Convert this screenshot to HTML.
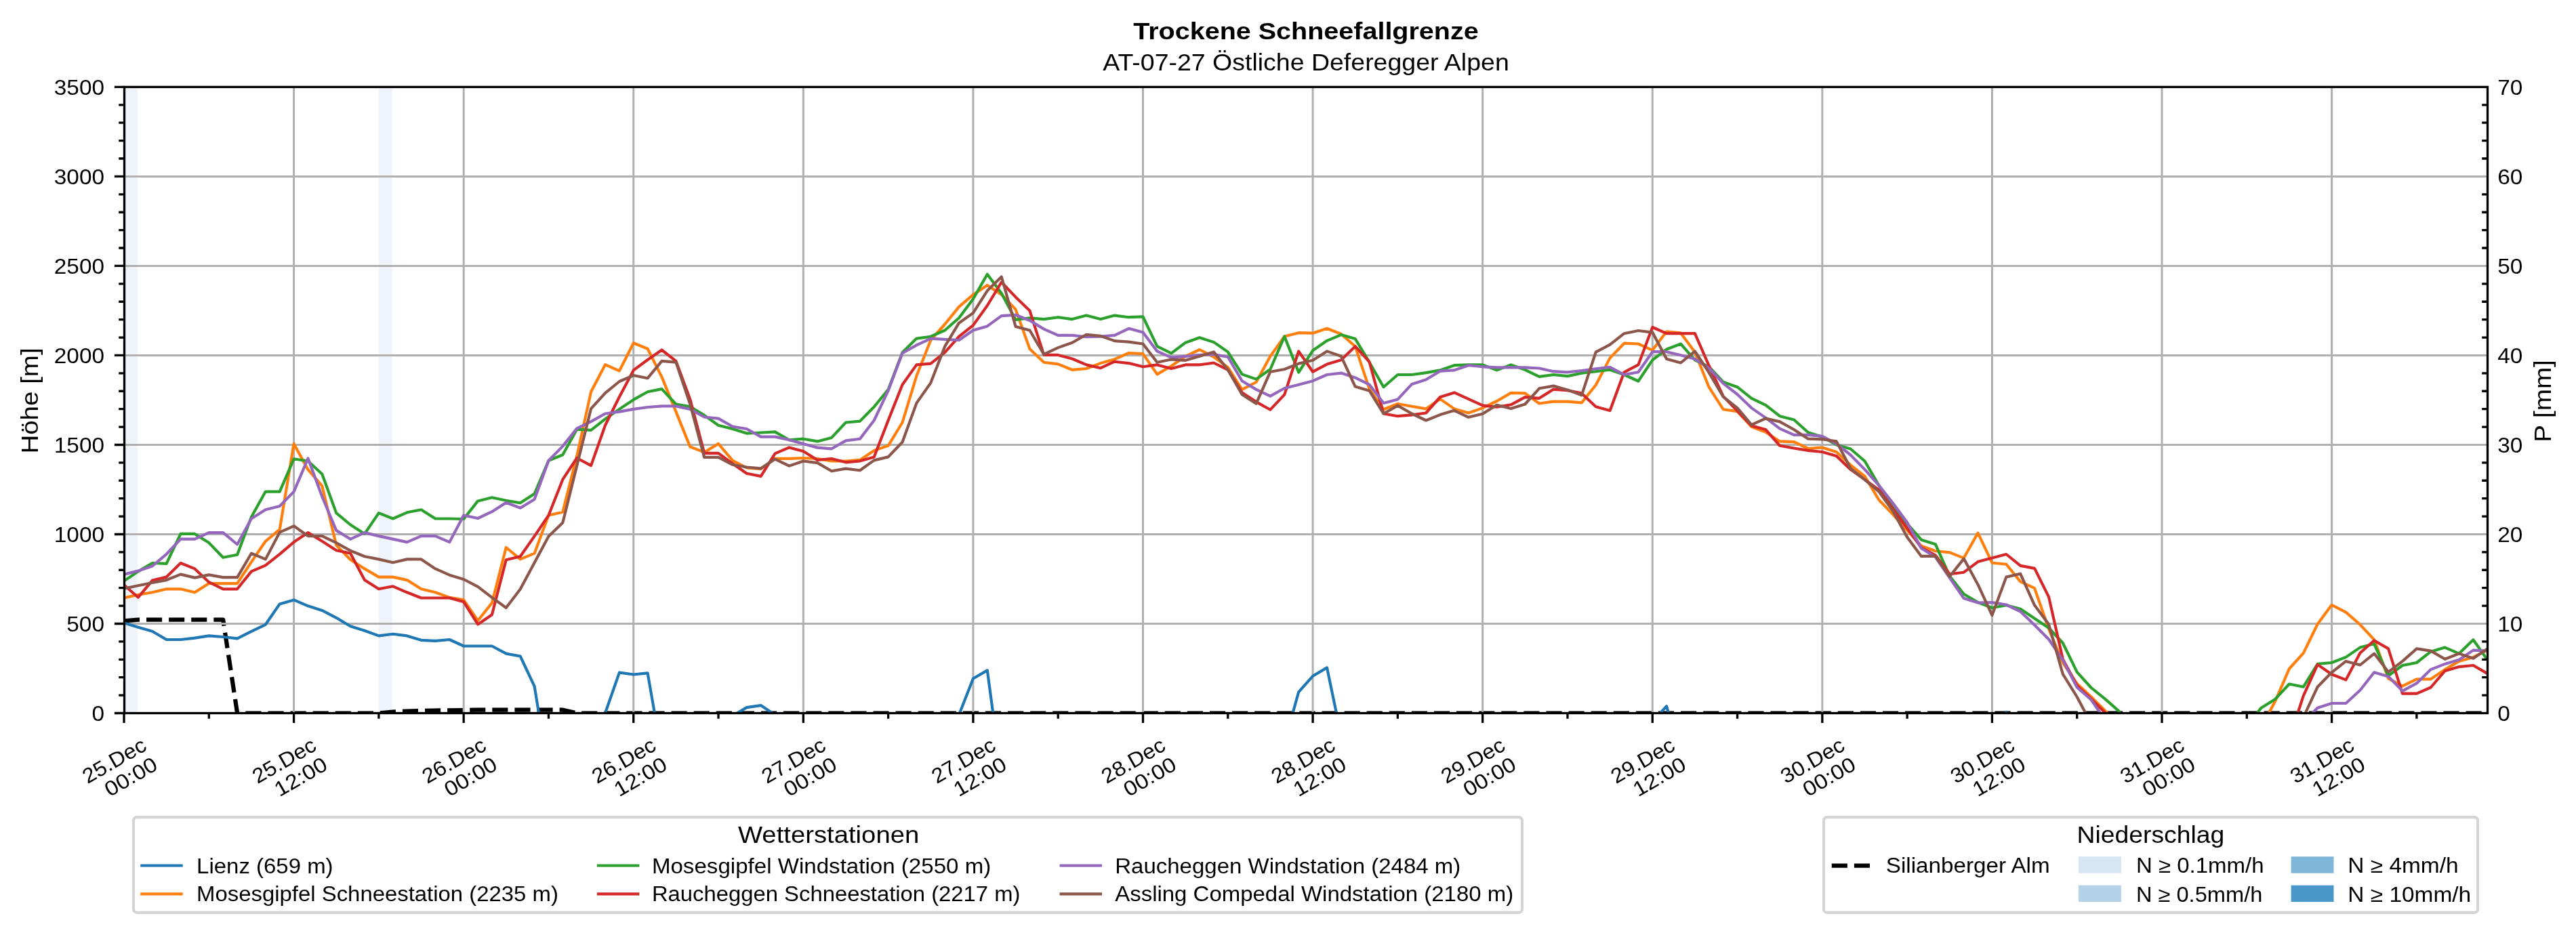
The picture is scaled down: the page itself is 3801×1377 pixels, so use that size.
<!DOCTYPE html><html><head><meta charset="utf-8"><style>html,body{margin:0;padding:0;background:#fff;overflow:hidden}</style></head><body><svg width="3801" height="1377" viewBox="0 0 3801 1377" style="display:block;will-change:transform">
<rect width="3801" height="1377" fill="#fff"/>
<defs><clipPath id="ax"><rect x="183.5" y="128.4" width="3487.0" height="924.1"/></clipPath></defs>
<rect x="183.0" y="128.4" width="19.9" height="924.1" fill="#eff4fb"/>
<rect x="558.9" y="128.4" width="19.9" height="924.1" fill="#eff4fb"/>
<g clip-path="url(#ax)" fill="none" stroke-linejoin="round" stroke-linecap="butt">
<polyline points="183.0,916.5 203.9,914.7 224.8,914.7 245.6,914.7 266.5,914.7 287.4,914.7 308.3,914.7 329.2,914.7 350.1,1052.5 370.9,1052.5 391.8,1052.5 412.7,1052.5 433.6,1052.5 454.5,1052.5 475.3,1052.5 496.2,1052.5 517.1,1052.5 538.0,1052.5 558.9,1052.5 579.8,1050.7 600.6,1049.6 621.5,1049.1 642.4,1048.5 663.3,1048.3 684.2,1048.0 705.1,1047.7 725.9,1047.7 746.8,1047.7 767.7,1047.7 788.6,1047.7 809.5,1047.7 830.3,1047.7 851.2,1052.5 872.1,1052.5 893.0,1052.5 913.9,1052.5 934.8,1052.5 955.6,1052.5 976.5,1052.5 997.4,1052.5 1018.3,1052.5 1039.2,1052.5 1060.0,1052.5 1080.9,1052.5 1101.8,1052.5 1122.7,1052.5 1143.6,1052.5 1164.5,1052.5 1185.3,1052.5 1206.2,1052.5 1227.1,1052.5 1248.0,1052.5 1268.9,1052.5 1289.7,1052.5 1310.6,1052.5 1331.5,1052.5 1352.4,1052.5 1373.3,1052.5 1394.2,1052.5 1415.0,1052.5 1435.9,1052.5 1456.8,1052.5 1477.7,1052.5 1498.6,1052.5 1519.4,1052.5 1540.3,1052.5 1561.2,1052.5 1582.1,1052.5 1603.0,1052.5 1623.9,1052.5 1644.7,1052.5 1665.6,1052.5 1686.5,1052.5 1707.4,1052.5 1728.3,1052.5 1749.2,1052.5 1770.0,1052.5 1790.9,1052.5 1811.8,1052.5 1832.7,1052.5 1853.6,1052.5 1874.4,1052.5 1895.3,1052.5 1916.2,1052.5 1937.1,1052.5 1958.0,1052.5 1978.9,1052.5 1999.7,1052.5 2020.6,1052.5 2041.5,1052.5 2062.4,1052.5 2083.3,1052.5 2104.1,1052.5 2125.0,1052.5 2145.9,1052.5 2166.8,1052.5 2187.7,1052.5 2208.6,1052.5 2229.4,1052.5 2250.3,1052.5 2271.2,1052.5 2292.1,1052.5 2313.0,1052.5 2333.8,1052.5 2354.7,1052.5 2375.6,1052.5 2396.5,1052.5 2417.4,1052.5 2438.3,1052.5 2459.1,1052.5 2480.0,1052.5 2500.9,1052.5 2521.8,1052.5 2542.7,1052.5 2563.5,1052.5 2584.4,1052.5 2605.3,1052.5 2626.2,1052.5 2647.1,1052.5 2668.0,1052.5 2688.8,1052.5 2709.7,1052.5 2730.6,1052.5 2751.5,1052.5 2772.4,1052.5 2793.2,1052.5 2814.1,1052.5 2835.0,1052.5 2855.9,1052.5 2876.8,1052.5 2897.7,1052.5 2918.5,1052.5 2939.4,1052.5 2960.3,1052.5 2981.2,1052.5 3002.1,1052.5 3023.0,1052.5 3043.8,1052.5 3064.7,1052.5 3085.6,1052.5 3106.5,1052.5 3127.4,1052.5 3148.2,1052.5 3169.1,1052.5 3190.0,1052.5 3210.9,1052.5 3231.8,1052.5 3252.7,1052.5 3273.5,1052.5 3294.4,1052.5 3315.3,1052.5 3336.2,1052.5 3357.1,1052.5 3377.9,1052.5 3398.8,1052.5 3419.7,1052.5 3440.6,1052.5 3461.5,1052.5 3482.4,1052.5 3503.2,1052.5 3524.1,1052.5 3545.0,1052.5 3565.9,1052.5 3586.8,1052.5 3607.6,1052.5 3628.5,1052.5 3649.4,1052.5 3670.3,1052.5" stroke="#000" stroke-width="6.25" stroke-dasharray="23.1 10" stroke-linecap="butt"/>
<path d="M433.58 128.4V1052.5M684.17 128.4V1052.5M934.75 128.4V1052.5M1185.34 128.4V1052.5M1435.92 128.4V1052.5M1686.50 128.4V1052.5M1937.09 128.4V1052.5M2187.67 128.4V1052.5M2438.26 128.4V1052.5M2688.84 128.4V1052.5M2939.42 128.4V1052.5M3190.01 128.4V1052.5M3440.59 128.4V1052.5M183.5 920.49H3670.5M183.5 788.47H3670.5M183.5 656.46H3670.5M183.5 524.44H3670.5M183.5 392.43H3670.5M183.5 260.41H3670.5" stroke="#b0b0b0" stroke-width="3" fill="none"/>
<polyline points="183.0,919.2 203.9,925.8 224.8,931.8 245.6,944.0 266.5,944.0 287.4,941.6 308.3,938.4 329.2,940.0 350.1,942.4 370.9,931.8 391.8,921.8 412.7,891.4 433.6,885.4 454.5,894.3 475.3,900.9 496.2,911.8 517.1,924.2 538.0,930.8 558.9,938.4 579.8,935.8 600.6,938.4 621.5,944.8 642.4,945.8 663.3,944.0 684.2,953.5 705.1,953.5 725.9,953.5 746.8,964.6 767.7,968.5 788.6,1012.9 809.5,1140.7 830.3,1158.1 851.2,1158.1 872.1,1158.1 893.0,1052.5 913.9,992.6 934.8,995.5 955.6,993.4 976.5,1113.2 997.4,1158.1 1018.3,1158.1 1039.2,1158.1 1060.0,1158.1 1080.9,1056.5 1101.8,1044.1 1122.7,1041.1 1143.6,1055.1 1164.5,1158.1 1185.3,1158.1 1206.2,1158.1 1227.1,1158.1 1248.0,1158.1 1268.9,1158.1 1289.7,1158.1 1310.6,1158.1 1331.5,1158.1 1352.4,1158.1 1373.3,1158.1 1394.2,1158.1 1415.0,1055.1 1435.9,1001.5 1456.8,989.4 1477.7,1145.4 1498.6,1158.1 1519.4,1158.1 1540.3,1158.1 1561.2,1158.1 1582.1,1158.1 1603.0,1158.1 1623.9,1158.1 1644.7,1158.1 1665.6,1158.1 1686.5,1158.1 1707.4,1158.1 1728.3,1158.1 1749.2,1158.1 1770.0,1158.1 1790.9,1158.1 1811.8,1158.1 1832.7,1158.1 1853.6,1158.1 1874.4,1158.1 1895.3,1096.6 1916.2,1021.3 1937.1,997.8 1958.0,985.4 1978.9,1085.8 1999.7,1158.1 2020.6,1158.1 2041.5,1158.1 2062.4,1158.1 2083.3,1158.1 2104.1,1158.1 2125.0,1158.1 2145.9,1158.1 2166.8,1158.1 2187.7,1158.1 2208.6,1158.1 2229.4,1158.1 2250.3,1158.1 2271.2,1158.1 2292.1,1158.1 2313.0,1158.1 2333.8,1158.1 2354.7,1158.1 2375.6,1158.1 2396.5,1158.1 2417.4,1158.1 2438.3,1065.2 2459.1,1042.2 2480.0,1115.9 2500.9,1158.1 2521.8,1158.1 2542.7,1158.1 2563.5,1158.1 2584.4,1158.1 2605.3,1158.1 2626.2,1158.1 2647.1,1158.1 2668.0,1158.1 2688.8,1158.1 2709.7,1158.1 2730.6,1158.1 2751.5,1158.1 2772.4,1158.1 2793.2,1158.1 2814.1,1158.1 2835.0,1158.1 2855.9,1158.1 2876.8,1158.1 2897.7,1158.1 2918.5,1158.1 2939.4,1158.1 2960.3,1050.9 2981.2,1158.1 3002.1,1158.1 3023.0,1158.1 3043.8,1158.1 3064.7,1158.1 3085.6,1158.1 3106.5,1158.1 3127.4,1158.1 3148.2,1158.1 3169.1,1158.1 3190.0,1158.1 3210.9,1158.1 3231.8,1158.1 3252.7,1158.1 3273.5,1158.1 3294.4,1158.1 3315.3,1158.1 3336.2,1158.1 3357.1,1158.1 3377.9,1158.1 3398.8,1158.1 3419.7,1158.1 3440.6,1158.1 3461.5,1158.1 3482.4,1158.1 3503.2,1158.1 3524.1,1158.1 3545.0,1158.1 3565.9,1158.1 3586.8,1158.1 3607.6,1158.1 3628.5,1158.1 3649.4,1158.1 3670.3,1158.1" stroke="#1f77b4" stroke-width="4.17"/>
<polyline points="183.0,882.5 203.9,877.7 224.8,874.3 245.6,869.3 266.5,869.3 287.4,874.3 308.3,861.1 329.2,861.1 350.1,861.1 370.9,829.4 391.8,798.8 412.7,781.3 433.6,654.9 454.5,693.2 475.3,717.2 496.2,804.6 517.1,826.0 538.0,839.4 558.9,851.6 579.8,851.6 600.6,856.1 621.5,869.3 642.4,874.3 663.3,881.9 684.2,885.4 705.1,916.0 725.9,889.9 746.8,808.0 767.7,825.4 788.6,816.7 809.5,760.5 830.3,755.7 851.2,673.1 872.1,578.3 893.0,538.2 913.9,547.4 934.8,506.2 955.6,514.7 976.5,556.4 997.4,607.6 1018.3,659.4 1039.2,667.5 1060.0,654.9 1080.9,679.7 1101.8,690.5 1122.7,692.1 1143.6,676.8 1164.5,676.8 1185.3,676.0 1206.2,677.0 1227.1,680.5 1248.0,680.5 1268.9,678.9 1289.7,664.9 1310.6,657.8 1331.5,623.5 1352.4,554.8 1373.3,502.0 1394.2,478.5 1415.0,452.9 1435.9,434.9 1456.8,420.9 1477.7,434.7 1498.6,456.6 1519.4,514.9 1540.3,534.7 1561.2,537.4 1582.1,545.8 1603.0,544.0 1623.9,536.1 1644.7,530.2 1665.6,521.0 1686.5,522.1 1707.4,552.4 1728.3,540.3 1749.2,525.8 1770.0,516.0 1790.9,526.8 1811.8,542.1 1832.7,574.9 1853.6,564.0 1874.4,525.8 1895.3,496.5 1916.2,491.2 1937.1,491.7 1958.0,484.8 1978.9,493.0 1999.7,511.2 2020.6,574.1 2041.5,604.2 2062.4,596.0 2083.3,599.7 2104.1,603.4 2125.0,588.9 2145.9,603.4 2166.8,609.5 2187.7,602.1 2208.6,592.0 2229.4,579.9 2250.3,580.4 2271.2,595.5 2292.1,592.6 2313.0,592.6 2333.8,594.4 2354.7,568.3 2375.6,528.4 2396.5,506.7 2417.4,507.5 2438.3,516.8 2459.1,489.3 2480.0,491.4 2500.9,519.7 2521.8,571.7 2542.7,604.2 2563.5,607.1 2584.4,629.8 2605.3,637.7 2626.2,651.4 2647.1,652.2 2668.0,662.0 2688.8,660.4 2709.7,667.0 2730.6,686.3 2751.5,702.9 2772.4,737.8 2793.2,759.4 2814.1,782.7 2835.0,805.6 2855.9,813.3 2876.8,815.4 2897.7,823.6 2918.5,786.6 2939.4,830.7 2960.3,832.8 2981.2,858.4 3002.1,868.2 3023.0,928.1 3043.8,978.3 3064.7,1008.9 3085.6,1028.5 3106.5,1049.3 3127.4,1070.2 3148.2,1158.1 3169.1,1158.1 3190.0,1158.1 3210.9,1158.1 3231.8,1158.1 3252.7,1158.1 3273.5,1158.1 3294.4,1158.1 3315.3,1158.1 3336.2,1074.2 3357.1,1035.1 3377.9,987.0 3398.8,963.8 3419.7,921.0 3440.6,892.8 3461.5,903.6 3482.4,921.8 3503.2,944.2 3524.1,1001.3 3545.0,1012.6 3565.9,1002.3 3586.8,1002.3 3607.6,988.1 3628.5,975.9 3649.4,969.9 3670.3,959.6" stroke="#ff7f0e" stroke-width="4.17"/>
<polyline points="183.0,857.6 203.9,843.4 224.8,831.0 245.6,831.8 266.5,787.9 287.4,787.9 308.3,801.1 329.2,822.8 350.1,818.8 370.9,762.9 391.8,725.6 412.7,725.6 433.6,677.3 454.5,680.5 475.3,699.8 496.2,757.1 517.1,774.5 538.0,787.9 558.9,757.1 579.8,765.5 600.6,756.3 621.5,752.3 642.4,765.5 663.3,765.5 684.2,766.0 705.1,739.4 725.9,734.3 746.8,738.8 767.7,742.3 788.6,728.8 809.5,679.7 830.3,671.2 851.2,633.7 872.1,634.8 893.0,618.4 913.9,603.9 934.8,589.9 955.6,578.3 976.5,574.1 997.4,596.5 1018.3,600.2 1039.2,612.9 1060.0,627.7 1080.9,633.0 1101.8,639.6 1122.7,638.5 1143.6,637.4 1164.5,649.3 1185.3,647.7 1206.2,651.4 1227.1,645.9 1248.0,623.5 1268.9,621.6 1289.7,600.5 1310.6,574.9 1331.5,520.2 1352.4,499.6 1373.3,496.7 1394.2,487.5 1415.0,469.3 1435.9,441.3 1456.8,404.8 1477.7,432.8 1498.6,471.9 1519.4,469.3 1540.3,471.1 1561.2,468.2 1582.1,471.1 1603.0,465.6 1623.9,471.1 1644.7,465.6 1665.6,468.2 1686.5,467.4 1707.4,511.2 1728.3,521.3 1749.2,505.7 1770.0,498.3 1790.9,504.9 1811.8,519.4 1832.7,552.4 1853.6,559.6 1874.4,545.0 1895.3,496.5 1916.2,549.5 1937.1,517.3 1958.0,502.8 1978.9,494.1 1999.7,500.1 2020.6,534.7 2041.5,571.2 2062.4,553.0 2083.3,553.0 2104.1,550.1 2125.0,546.4 2145.9,539.2 2166.8,538.4 2187.7,538.4 2208.6,546.4 2229.4,538.4 2250.3,545.8 2271.2,555.9 2292.1,553.0 2313.0,555.1 2333.8,550.8 2354.7,548.2 2375.6,545.8 2396.5,553.0 2417.4,562.5 2438.3,531.3 2459.1,515.5 2480.0,507.5 2500.9,531.3 2521.8,541.3 2542.7,563.8 2563.5,571.2 2584.4,587.8 2605.3,597.8 2626.2,614.2 2647.1,619.5 2668.0,638.2 2688.8,644.8 2709.7,656.5 2730.6,662.5 2751.5,680.5 2772.4,716.4 2793.2,749.4 2814.1,772.9 2835.0,796.7 2855.9,803.3 2876.8,850.3 2897.7,876.7 2918.5,889.1 2939.4,897.0 2960.3,893.3 2981.2,898.8 3002.1,912.8 3023.0,926.8 3043.8,949.0 3064.7,991.8 3085.6,1015.0 3106.5,1031.9 3127.4,1050.4 3148.2,1158.1 3169.1,1158.1 3190.0,1158.1 3210.9,1158.1 3231.8,1158.1 3252.7,1158.1 3273.5,1158.1 3294.4,1158.1 3315.3,1072.0 3336.2,1045.1 3357.1,1031.9 3377.9,1009.5 3398.8,1013.7 3419.7,979.9 3440.6,978.0 3461.5,969.9 3482.4,955.6 3503.2,950.3 3524.1,997.3 3545.0,982.0 3565.9,978.0 3586.8,961.7 3607.6,955.6 3628.5,964.6 3649.4,944.2 3670.3,973.8" stroke="#2ca02c" stroke-width="4.17"/>
<polyline points="183.0,863.2 203.9,881.7 224.8,856.6 245.6,851.6 266.5,831.0 287.4,839.4 308.3,859.2 329.2,869.3 350.1,869.3 370.9,843.4 391.8,834.4 412.7,817.8 433.6,800.1 454.5,786.1 475.3,798.8 496.2,812.2 517.1,816.7 538.0,856.1 558.9,869.3 579.8,865.3 600.6,874.3 621.5,882.5 642.4,882.5 663.3,882.5 684.2,888.3 705.1,921.5 725.9,907.3 746.8,826.2 767.7,821.2 788.6,791.4 809.5,760.5 830.3,707.7 851.2,676.0 872.1,687.1 893.0,627.7 913.9,585.7 934.8,546.4 955.6,531.0 976.5,516.5 997.4,532.9 1018.3,589.4 1039.2,668.9 1060.0,668.9 1080.9,684.2 1101.8,698.7 1122.7,702.9 1143.6,669.4 1164.5,660.4 1185.3,666.0 1206.2,678.9 1227.1,677.0 1248.0,682.3 1268.9,680.5 1289.7,674.4 1310.6,620.5 1331.5,567.7 1352.4,538.4 1373.3,536.6 1394.2,520.2 1415.0,496.7 1435.9,480.1 1456.8,451.0 1477.7,416.5 1498.6,438.4 1519.4,458.4 1540.3,523.9 1561.2,523.9 1582.1,529.5 1603.0,538.4 1623.9,543.2 1644.7,533.7 1665.6,536.1 1686.5,541.3 1707.4,538.4 1728.3,544.0 1749.2,538.4 1770.0,538.4 1790.9,535.5 1811.8,545.8 1832.7,579.4 1853.6,593.1 1874.4,604.7 1895.3,582.3 1916.2,518.4 1937.1,548.7 1958.0,537.6 1978.9,531.3 1999.7,511.2 2020.6,534.2 2041.5,610.5 2062.4,614.2 2083.3,612.4 2104.1,609.5 2125.0,586.0 2145.9,579.4 2166.8,588.9 2187.7,598.4 2208.6,600.7 2229.4,597.3 2250.3,586.2 2271.2,587.8 2292.1,574.6 2313.0,576.2 2333.8,580.4 2354.7,600.2 2375.6,606.0 2396.5,549.3 2417.4,538.4 2438.3,483.0 2459.1,492.2 2480.0,492.2 2500.9,492.2 2521.8,540.0 2542.7,584.9 2563.5,606.6 2584.4,628.2 2605.3,634.0 2626.2,657.8 2647.1,661.5 2668.0,664.9 2688.8,667.0 2709.7,673.1 2730.6,692.9 2751.5,707.9 2772.4,723.0 2793.2,751.2 2814.1,779.5 2835.0,808.3 2855.9,819.6 2876.8,847.3 2897.7,844.7 2918.5,829.1 2939.4,823.6 2960.3,818.0 2981.2,834.9 3002.1,838.9 3023.0,880.9 3043.8,972.8 3064.7,1011.8 3085.6,1031.4 3106.5,1052.2 3127.4,1071.0 3148.2,1158.1 3169.1,1158.1 3190.0,1158.1 3210.9,1158.1 3231.8,1158.1 3252.7,1158.1 3273.5,1158.1 3294.4,1158.1 3315.3,1158.1 3336.2,1158.1 3357.1,1158.1 3377.9,1091.0 3398.8,1026.9 3419.7,980.9 3440.6,995.2 3461.5,1003.4 3482.4,963.8 3503.2,945.3 3524.1,957.4 3545.0,1023.7 3565.9,1023.7 3586.8,1014.5 3607.6,990.2 3628.5,984.1 3649.4,982.0 3670.3,994.1" stroke="#d62728" stroke-width="4.17"/>
<polyline points="183.0,847.6 203.9,842.6 224.8,835.5 245.6,817.8 266.5,795.6 287.4,795.6 308.3,786.1 329.2,786.1 350.1,803.5 370.9,765.5 391.8,752.3 412.7,747.0 433.6,725.6 454.5,676.5 475.3,733.0 496.2,782.9 517.1,795.6 538.0,786.1 558.9,791.1 579.8,795.6 600.6,800.1 621.5,791.1 642.4,791.1 663.3,800.1 684.2,760.5 705.1,765.0 725.9,755.2 746.8,741.7 767.7,749.7 788.6,737.0 809.5,679.7 830.3,658.6 851.2,632.4 872.1,622.1 893.0,610.5 913.9,607.6 934.8,603.9 955.6,601.0 976.5,599.4 997.4,599.4 1018.3,603.9 1039.2,615.5 1060.0,617.6 1080.9,629.5 1101.8,633.0 1122.7,644.6 1143.6,644.6 1164.5,649.3 1185.3,655.1 1206.2,660.7 1227.1,662.3 1248.0,650.4 1268.9,647.7 1289.7,620.5 1310.6,576.7 1331.5,521.3 1352.4,509.4 1373.3,499.6 1394.2,500.9 1415.0,502.0 1435.9,487.5 1456.8,481.4 1477.7,466.1 1498.6,464.8 1519.4,473.0 1540.3,485.6 1561.2,494.9 1582.1,494.9 1603.0,497.2 1623.9,496.7 1644.7,494.9 1665.6,484.8 1686.5,490.4 1707.4,518.4 1728.3,527.6 1749.2,525.8 1770.0,523.9 1790.9,523.1 1811.8,526.8 1832.7,562.2 1853.6,574.9 1874.4,584.6 1895.3,573.0 1916.2,567.7 1937.1,562.2 1958.0,553.0 1978.9,550.6 1999.7,557.4 2020.6,567.7 2041.5,594.9 2062.4,589.4 2083.3,566.9 2104.1,560.3 2125.0,547.7 2145.9,546.4 2166.8,539.2 2187.7,541.3 2208.6,542.4 2229.4,542.4 2250.3,542.4 2271.2,543.5 2292.1,548.2 2313.0,549.3 2333.8,547.1 2354.7,544.2 2375.6,541.9 2396.5,553.0 2417.4,549.3 2438.3,519.2 2459.1,519.2 2480.0,524.2 2500.9,529.7 2521.8,543.5 2542.7,565.9 2563.5,582.0 2584.4,602.1 2605.3,616.6 2626.2,632.7 2647.1,641.9 2668.0,641.9 2688.8,643.8 2709.7,654.9 2730.6,671.5 2751.5,692.9 2772.4,716.4 2793.2,742.8 2814.1,771.0 2835.0,809.3 2855.9,822.3 2876.8,852.9 2897.7,883.0 2918.5,889.6 2939.4,889.1 2960.3,892.5 2981.2,902.5 3002.1,922.6 3023.0,943.5 3043.8,974.1 3064.7,1014.5 3085.6,1032.7 3106.5,1063.1 3127.4,1158.1 3148.2,1158.1 3169.1,1158.1 3190.0,1158.1 3210.9,1158.1 3231.8,1158.1 3252.7,1158.1 3273.5,1158.1 3294.4,1158.1 3315.3,1158.1 3336.2,1158.1 3357.1,1158.1 3377.9,1158.1 3398.8,1065.4 3419.7,1044.8 3440.6,1038.0 3461.5,1038.0 3482.4,1018.7 3503.2,992.3 3524.1,998.4 3545.0,1019.8 3565.9,1008.4 3586.8,988.1 3607.6,979.9 3628.5,973.8 3649.4,959.6 3670.3,960.6" stroke="#9467bd" stroke-width="4.17"/>
<polyline points="183.0,868.7 203.9,864.2 224.8,860.0 245.6,856.1 266.5,847.6 287.4,852.6 308.3,848.4 329.2,852.1 350.1,852.1 370.9,816.7 391.8,825.4 412.7,785.6 433.6,776.3 454.5,791.1 475.3,791.1 496.2,801.1 517.1,812.8 538.0,821.2 558.9,825.4 579.8,830.2 600.6,825.4 621.5,825.4 642.4,839.4 663.3,848.7 684.2,855.0 705.1,865.8 725.9,881.9 746.8,897.0 767.7,869.5 788.6,830.5 809.5,791.4 830.3,771.6 851.2,687.6 872.1,603.1 893.0,580.2 913.9,563.0 934.8,554.0 955.6,558.2 976.5,532.9 997.4,534.7 1018.3,596.5 1039.2,674.9 1060.0,674.9 1080.9,685.8 1101.8,689.5 1122.7,691.3 1143.6,677.6 1164.5,687.6 1185.3,680.5 1206.2,683.1 1227.1,695.3 1248.0,691.6 1268.9,694.2 1289.7,679.4 1310.6,674.4 1331.5,652.5 1352.4,594.9 1373.3,565.1 1394.2,511.2 1415.0,476.7 1435.9,461.9 1456.8,429.1 1477.7,408.5 1498.6,481.9 1519.4,487.5 1540.3,522.9 1561.2,513.1 1582.1,505.7 1603.0,493.8 1623.9,495.9 1644.7,503.1 1665.6,504.6 1686.5,507.5 1707.4,534.7 1728.3,530.5 1749.2,531.8 1770.0,525.8 1790.9,519.4 1811.8,545.8 1832.7,582.3 1853.6,595.7 1874.4,548.7 1895.3,545.0 1916.2,536.6 1937.1,531.8 1958.0,518.4 1978.9,525.8 1999.7,570.6 2020.6,576.7 2041.5,610.5 2062.4,598.6 2083.3,610.5 2104.1,620.5 2125.0,612.1 2145.9,605.8 2166.8,615.8 2187.7,610.8 2208.6,597.8 2229.4,603.1 2250.3,596.5 2271.2,573.3 2292.1,569.6 2313.0,575.4 2333.8,583.3 2354.7,519.7 2375.6,508.6 2396.5,492.2 2417.4,488.0 2438.3,490.6 2459.1,529.7 2480.0,535.5 2500.9,518.4 2521.8,550.1 2542.7,585.7 2563.5,602.1 2584.4,626.9 2605.3,617.6 2626.2,622.4 2647.1,634.0 2668.0,647.7 2688.8,648.3 2709.7,651.4 2730.6,691.3 2751.5,707.9 2772.4,725.6 2793.2,754.4 2814.1,792.7 2835.0,820.9 2855.9,820.9 2876.8,850.8 2897.7,824.6 2918.5,862.7 2939.4,908.1 2960.3,851.6 2981.2,846.8 3002.1,893.3 3023.0,921.3 3043.8,994.9 3064.7,1028.5 3085.6,1068.1 3106.5,1158.1 3127.4,1158.1 3148.2,1158.1 3169.1,1158.1 3190.0,1158.1 3210.9,1158.1 3231.8,1158.1 3252.7,1158.1 3273.5,1158.1 3294.4,1158.1 3315.3,1158.1 3336.2,1158.1 3357.1,1158.1 3377.9,1158.1 3398.8,1058.6 3419.7,1013.7 3440.6,992.3 3461.5,975.9 3482.4,981.5 3503.2,964.6 3524.1,991.8 3545.0,975.9 3565.9,957.4 3586.8,960.6 3607.6,972.8 3628.5,964.6 3649.4,971.7 3670.3,957.4" stroke="#8c564b" stroke-width="4.17"/>
</g>
<rect x="183.5" y="128.4" width="3487.0" height="924.1" fill="none" stroke="#000" stroke-width="3.33" stroke-linejoin="miter"/>
<path d="M168.9 1052.50H183.5M168.9 920.49H183.5M168.9 788.47H183.5M168.9 656.46H183.5M168.9 524.44H183.5M168.9 392.43H183.5M168.9 260.41H183.5M168.9 128.40H183.5M175.2 1026.10H183.5M175.2 999.69H183.5M175.2 973.29H183.5M175.2 946.89H183.5M175.2 894.08H183.5M175.2 867.68H183.5M175.2 841.28H183.5M175.2 814.87H183.5M175.2 762.07H183.5M175.2 735.66H183.5M175.2 709.26H183.5M175.2 682.86H183.5M175.2 630.05H183.5M175.2 603.65H183.5M175.2 577.25H183.5M175.2 550.84H183.5M175.2 498.04H183.5M175.2 471.63H183.5M175.2 445.23H183.5M175.2 418.83H183.5M175.2 366.02H183.5M175.2 339.62H183.5M175.2 313.22H183.5M175.2 286.81H183.5M175.2 234.01H183.5M175.2 207.60H183.5M175.2 181.20H183.5M175.2 154.80H183.5M183.00 1052.5v14.6M433.58 1052.5v14.6M684.17 1052.5v14.6M934.75 1052.5v14.6M1185.34 1052.5v14.6M1435.92 1052.5v14.6M1686.50 1052.5v14.6M1937.09 1052.5v14.6M2187.67 1052.5v14.6M2438.26 1052.5v14.6M2688.84 1052.5v14.6M2939.42 1052.5v14.6M3190.01 1052.5v14.6M3440.59 1052.5v14.6M308.29 1052.5v8.3M558.88 1052.5v8.3M809.46 1052.5v8.3M1060.04 1052.5v8.3M1310.63 1052.5v8.3M1561.21 1052.5v8.3M1811.80 1052.5v8.3M2062.38 1052.5v8.3M2312.96 1052.5v8.3M2563.55 1052.5v8.3M2814.13 1052.5v8.3M3064.72 1052.5v8.3M3315.30 1052.5v8.3M3565.88 1052.5v8.3M3662.2 1026.10H3670.5M3662.2 999.69H3670.5M3662.2 973.29H3670.5M3662.2 946.89H3670.5M3662.2 894.08H3670.5M3662.2 867.68H3670.5M3662.2 841.28H3670.5M3662.2 814.87H3670.5M3662.2 762.07H3670.5M3662.2 735.66H3670.5M3662.2 709.26H3670.5M3662.2 682.86H3670.5M3662.2 630.05H3670.5M3662.2 603.65H3670.5M3662.2 577.25H3670.5M3662.2 550.84H3670.5M3662.2 498.04H3670.5M3662.2 471.63H3670.5M3662.2 445.23H3670.5M3662.2 418.83H3670.5M3662.2 366.02H3670.5M3662.2 339.62H3670.5M3662.2 313.22H3670.5M3662.2 286.81H3670.5M3662.2 234.01H3670.5M3662.2 207.60H3670.5M3662.2 181.20H3670.5M3662.2 154.80H3670.5" stroke="#000" stroke-width="3.33" fill="none"/>
<g font-family="Liberation Sans, sans-serif" fill="#000"><text x="154.0" y="1063.7" font-size="30.86" text-anchor="end" textLength="18.6" lengthAdjust="spacingAndGlyphs">0</text><text x="154.0" y="931.7" font-size="30.86" text-anchor="end" textLength="55.7" lengthAdjust="spacingAndGlyphs">500</text><text x="154.0" y="799.7" font-size="30.86" text-anchor="end" textLength="74.2" lengthAdjust="spacingAndGlyphs">1000</text><text x="154.0" y="667.7" font-size="30.86" text-anchor="end" textLength="74.2" lengthAdjust="spacingAndGlyphs">1500</text><text x="154.0" y="535.6" font-size="30.86" text-anchor="end" textLength="74.2" lengthAdjust="spacingAndGlyphs">2000</text><text x="154.0" y="403.6" font-size="30.86" text-anchor="end" textLength="74.2" lengthAdjust="spacingAndGlyphs">2500</text><text x="154.0" y="271.6" font-size="30.86" text-anchor="end" textLength="74.2" lengthAdjust="spacingAndGlyphs">3000</text><text x="154.0" y="139.6" font-size="30.86" text-anchor="end" textLength="74.2" lengthAdjust="spacingAndGlyphs">3500</text><text x="3685.2" y="1063.7" font-size="30.86" text-anchor="start" textLength="18.6" lengthAdjust="spacingAndGlyphs">0</text><text x="3685.2" y="931.7" font-size="30.86" text-anchor="start" textLength="37.1" lengthAdjust="spacingAndGlyphs">10</text><text x="3685.2" y="799.7" font-size="30.86" text-anchor="start" textLength="37.1" lengthAdjust="spacingAndGlyphs">20</text><text x="3685.2" y="667.7" font-size="30.86" text-anchor="start" textLength="37.1" lengthAdjust="spacingAndGlyphs">30</text><text x="3685.2" y="535.6" font-size="30.86" text-anchor="start" textLength="37.1" lengthAdjust="spacingAndGlyphs">40</text><text x="3685.2" y="403.6" font-size="30.86" text-anchor="start" textLength="37.1" lengthAdjust="spacingAndGlyphs">50</text><text x="3685.2" y="271.6" font-size="30.86" text-anchor="start" textLength="37.1" lengthAdjust="spacingAndGlyphs">60</text><text x="3685.2" y="139.6" font-size="30.86" text-anchor="start" textLength="37.1" lengthAdjust="spacingAndGlyphs">70</text><g transform="translate(218.3,1105.9) rotate(-30)"><text x="0.0" y="0.0" font-size="30.86" text-anchor="end" textLength="102.8" lengthAdjust="spacingAndGlyphs">25.Dec</text><text x="0.0" y="33.0" font-size="30.86" text-anchor="end" textLength="84.1" lengthAdjust="spacingAndGlyphs">00:00</text></g><g transform="translate(468.9,1105.9) rotate(-30)"><text x="0.0" y="0.0" font-size="30.86" text-anchor="end" textLength="102.8" lengthAdjust="spacingAndGlyphs">25.Dec</text><text x="0.0" y="33.0" font-size="30.86" text-anchor="end" textLength="84.1" lengthAdjust="spacingAndGlyphs">12:00</text></g><g transform="translate(719.5,1105.9) rotate(-30)"><text x="0.0" y="0.0" font-size="30.86" text-anchor="end" textLength="102.8" lengthAdjust="spacingAndGlyphs">26.Dec</text><text x="0.0" y="33.0" font-size="30.86" text-anchor="end" textLength="84.1" lengthAdjust="spacingAndGlyphs">00:00</text></g><g transform="translate(970.1,1105.9) rotate(-30)"><text x="0.0" y="0.0" font-size="30.86" text-anchor="end" textLength="102.8" lengthAdjust="spacingAndGlyphs">26.Dec</text><text x="0.0" y="33.0" font-size="30.86" text-anchor="end" textLength="84.1" lengthAdjust="spacingAndGlyphs">12:00</text></g><g transform="translate(1220.6,1105.9) rotate(-30)"><text x="0.0" y="0.0" font-size="30.86" text-anchor="end" textLength="102.8" lengthAdjust="spacingAndGlyphs">27.Dec</text><text x="0.0" y="33.0" font-size="30.86" text-anchor="end" textLength="84.1" lengthAdjust="spacingAndGlyphs">00:00</text></g><g transform="translate(1471.2,1105.9) rotate(-30)"><text x="0.0" y="0.0" font-size="30.86" text-anchor="end" textLength="102.8" lengthAdjust="spacingAndGlyphs">27.Dec</text><text x="0.0" y="33.0" font-size="30.86" text-anchor="end" textLength="84.1" lengthAdjust="spacingAndGlyphs">12:00</text></g><g transform="translate(1721.8,1105.9) rotate(-30)"><text x="0.0" y="0.0" font-size="30.86" text-anchor="end" textLength="102.8" lengthAdjust="spacingAndGlyphs">28.Dec</text><text x="0.0" y="33.0" font-size="30.86" text-anchor="end" textLength="84.1" lengthAdjust="spacingAndGlyphs">00:00</text></g><g transform="translate(1972.4,1105.9) rotate(-30)"><text x="0.0" y="0.0" font-size="30.86" text-anchor="end" textLength="102.8" lengthAdjust="spacingAndGlyphs">28.Dec</text><text x="0.0" y="33.0" font-size="30.86" text-anchor="end" textLength="84.1" lengthAdjust="spacingAndGlyphs">12:00</text></g><g transform="translate(2223.0,1105.9) rotate(-30)"><text x="0.0" y="0.0" font-size="30.86" text-anchor="end" textLength="102.8" lengthAdjust="spacingAndGlyphs">29.Dec</text><text x="0.0" y="33.0" font-size="30.86" text-anchor="end" textLength="84.1" lengthAdjust="spacingAndGlyphs">00:00</text></g><g transform="translate(2473.6,1105.9) rotate(-30)"><text x="0.0" y="0.0" font-size="30.86" text-anchor="end" textLength="102.8" lengthAdjust="spacingAndGlyphs">29.Dec</text><text x="0.0" y="33.0" font-size="30.86" text-anchor="end" textLength="84.1" lengthAdjust="spacingAndGlyphs">12:00</text></g><g transform="translate(2724.1,1105.9) rotate(-30)"><text x="0.0" y="0.0" font-size="30.86" text-anchor="end" textLength="102.8" lengthAdjust="spacingAndGlyphs">30.Dec</text><text x="0.0" y="33.0" font-size="30.86" text-anchor="end" textLength="84.1" lengthAdjust="spacingAndGlyphs">00:00</text></g><g transform="translate(2974.7,1105.9) rotate(-30)"><text x="0.0" y="0.0" font-size="30.86" text-anchor="end" textLength="102.8" lengthAdjust="spacingAndGlyphs">30.Dec</text><text x="0.0" y="33.0" font-size="30.86" text-anchor="end" textLength="84.1" lengthAdjust="spacingAndGlyphs">12:00</text></g><g transform="translate(3225.3,1105.9) rotate(-30)"><text x="0.0" y="0.0" font-size="30.86" text-anchor="end" textLength="102.8" lengthAdjust="spacingAndGlyphs">31.Dec</text><text x="0.0" y="33.0" font-size="30.86" text-anchor="end" textLength="84.1" lengthAdjust="spacingAndGlyphs">00:00</text></g><g transform="translate(3475.9,1105.9) rotate(-30)"><text x="0.0" y="0.0" font-size="30.86" text-anchor="end" textLength="102.8" lengthAdjust="spacingAndGlyphs">31.Dec</text><text x="0.0" y="33.0" font-size="30.86" text-anchor="end" textLength="84.1" lengthAdjust="spacingAndGlyphs">12:00</text></g><g transform="translate(56.2,591.5) rotate(-90)"><text x="0.0" y="0.0" font-size="35.26" text-anchor="middle" textLength="156.2" lengthAdjust="spacingAndGlyphs">Höhe [m]</text></g><g transform="translate(3764,592) rotate(-90)"><text x="0.0" y="0.0" font-size="35.26" text-anchor="middle" textLength="121.6" lengthAdjust="spacingAndGlyphs">P [mm]</text></g><text x="1927.0" y="58.2" font-size="35.26" text-anchor="middle" font-weight="bold" textLength="509.4" lengthAdjust="spacingAndGlyphs">Trockene Schneefallgrenze</text><text x="1927.0" y="103.9" font-size="35.26" text-anchor="middle" textLength="599.5" lengthAdjust="spacingAndGlyphs">AT-07-27 Östliche Deferegger Alpen</text></g>
<g font-family="Liberation Sans, sans-serif" fill="#000"><rect x="197" y="1206.1" width="2049" height="140.7" rx="4.8" fill="#fff" fill-opacity="0.8" stroke="#d4d4d4" stroke-width="4.17"/><text x="1222.6" y="1243.8" font-size="35.26" text-anchor="middle" textLength="267.3" lengthAdjust="spacingAndGlyphs">Wetterstationen</text><path d="M207.2 1277.5h62.5" stroke="#1f77b4" stroke-width="4.17"/><text x="290.1" y="1288.6" font-size="30.86" text-anchor="start" textLength="201.5" lengthAdjust="spacingAndGlyphs">Lienz (659 m)</text><path d="M207.2 1319.4h62.5" stroke="#ff7f0e" stroke-width="4.17"/><text x="290.1" y="1329.8" font-size="30.86" text-anchor="start" textLength="533.8" lengthAdjust="spacingAndGlyphs">Mosesgipfel Schneestation (2235 m)</text><path d="M880.9 1277.5h62.5" stroke="#2ca02c" stroke-width="4.17"/><text x="961.9" y="1288.6" font-size="30.86" text-anchor="start" textLength="500.4" lengthAdjust="spacingAndGlyphs">Mosesgipfel Windstation (2550 m)</text><path d="M880.9 1319.4h62.5" stroke="#d62728" stroke-width="4.17"/><text x="961.9" y="1329.8" font-size="30.86" text-anchor="start" textLength="543.6" lengthAdjust="spacingAndGlyphs">Raucheggen Schneestation (2217 m)</text><path d="M1563.5 1277.5h62.5" stroke="#9467bd" stroke-width="4.17"/><text x="1645.2" y="1288.6" font-size="30.86" text-anchor="start" textLength="510.1" lengthAdjust="spacingAndGlyphs">Raucheggen Windstation (2484 m)</text><path d="M1563.5 1319.4h62.5" stroke="#8c564b" stroke-width="4.17"/><text x="1645.2" y="1329.8" font-size="30.86" text-anchor="start" textLength="588.0" lengthAdjust="spacingAndGlyphs">Assling Compedal Windstation (2180 m)</text><rect x="2691" y="1206.1" width="965" height="140.7" rx="4.8" fill="#fff" fill-opacity="0.8" stroke="#d4d4d4" stroke-width="4.17"/><text x="3173.4" y="1243.5" font-size="35.26" text-anchor="middle" textLength="217.7" lengthAdjust="spacingAndGlyphs">Niederschlag</text><path d="M2702.8 1277.5H2759.5" stroke="#000" stroke-width="6.25" stroke-dasharray="23.1 10"/><text x="2782.8" y="1287.8" font-size="30.86" text-anchor="start" textLength="241.8" lengthAdjust="spacingAndGlyphs">Silianberger Alm</text><rect x="3067" y="1264.2" width="62.9" height="24.5" fill="#d6e6f4"/><text x="3151.9" y="1288.2" font-size="30.86" text-anchor="start" textLength="188.6" lengthAdjust="spacingAndGlyphs">N ≥ 0.1mm/h</text><rect x="3067" y="1306.6" width="62.9" height="24.5" fill="#b4d3e9"/><text x="3151.9" y="1330.5" font-size="30.86" text-anchor="start" textLength="186.5" lengthAdjust="spacingAndGlyphs">N ≥ 0.5mm/h</text><rect x="3380.6" y="1264.2" width="62.9" height="24.5" fill="#80b6d8"/><text x="3464.3" y="1288.2" font-size="30.86" text-anchor="start" textLength="163.3" lengthAdjust="spacingAndGlyphs">N ≥ 4mm/h</text><rect x="3380.6" y="1306.6" width="62.9" height="24.5" fill="#4a98c9"/><text x="3464.3" y="1330.5" font-size="30.86" text-anchor="start" textLength="181.9" lengthAdjust="spacingAndGlyphs">N ≥ 10mm/h</text></g>
</svg></body></html>
